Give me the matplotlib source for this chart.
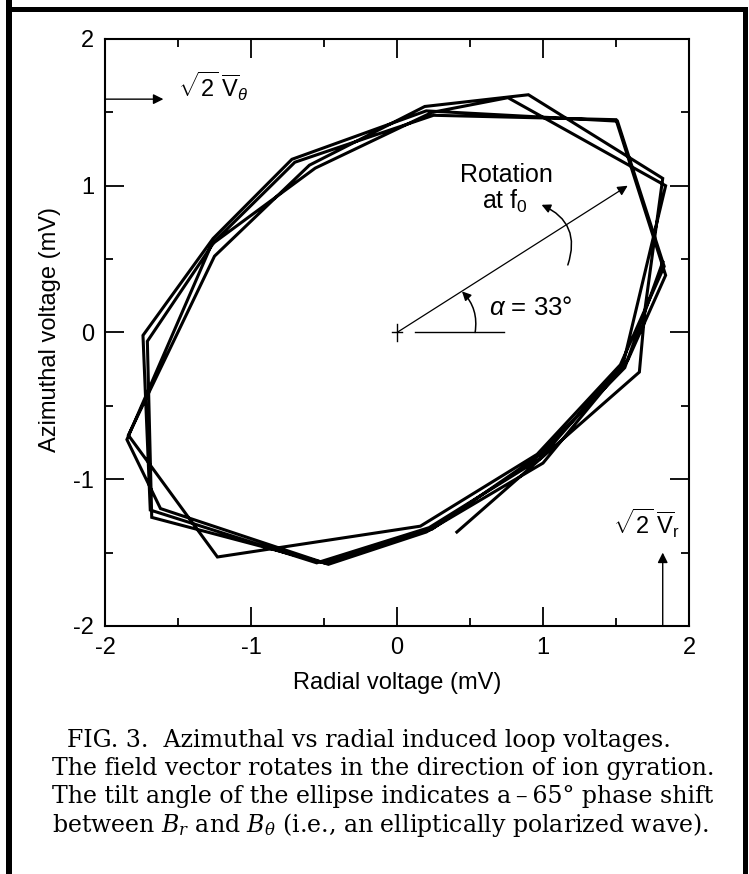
import matplotlib
matplotlib.use("Agg")
import matplotlib.pyplot as plt
from matplotlib.patches import Rectangle

plt.rcParams['font.family'] = ['Liberation Sans', 'DejaVu Sans']
plt.rcParams['axes.unicode_minus'] = False
plt.rcParams['mathtext.fontset'] = 'custom'
plt.rcParams['mathtext.rm'] = 'Liberation Sans'
plt.rcParams['mathtext.it'] = 'Liberation Sans:italic'

# hodogram trace (radial, azimuthal voltage in mV)
radial_mv = [0.41, 1.66, 1.70,
             1.82, 0.90, 0.19, -0.60, -1.25, -1.84, -1.23, 0.16, 0.96, 1.53,
             1.83, 1.51, 0.20, -0.72, -1.26, -1.74, -1.69, -0.55, 0.22, 0.98, 1.55,
             1.84, 0.76, 0.24, -0.56, -1.27, -1.85, -1.62, -0.47, 0.20, 1.00, 1.58,
             1.84, 1.50, 0.25, -0.70, -1.25, -1.71, -1.68, -0.50, 0.24, 0.97, 1.56, 1.82]
azimuthal_mv = [-1.36, -0.27, 0.17,
                1.05, 1.62, 1.54, 1.14, 0.52, -0.70, -1.53, -1.32, -0.83, -0.22,
                0.45, 1.44, 1.51, 1.18, 0.64, -0.02, -1.21, -1.57, -1.33, -0.86, -0.21,
                1.00, 1.60, 1.50, 1.12, 0.60, -0.73, -1.20, -1.58, -1.36, -0.89, -0.19,
                0.39, 1.45, 1.48, 1.16, 0.62, -0.06, -1.26, -1.57, -1.34, -0.84, -0.24, 0.48]

ticks = [-2, -1, 0, 1, 2]
minor_ticks = [-1.5, -0.5, 0.5, 1.5]
tilt_deg = 33

caption = ["FIG. 3.  Azimuthal vs radial induced loop voltages.",
           "The field vector rotates in the direction of ion gyration.",
           "The tilt angle of the ellipse indicates a\u2009\u2013\u200965\u00b0 phase shift",
           r"between $B_r$ and $B_\theta$ (i.e., an elliptically polarized wave)."]

fig = plt.figure(figsize=(7.49, 8.74), dpi=100)
ax = fig.add_axes([0.1402, 0.2838, 0.7797, 0.6716])

ax.plot(radial_mv, azimuthal_mv, color='black', lw=2.2, solid_joinstyle='miter')

ax.set_xlim(-2, 2)
ax.set_ylim(-2, 2)
ax.set_xticks(ticks)
ax.set_yticks(ticks)
ax.set_xticks(minor_ticks, minor=True)
ax.set_yticks(minor_ticks, minor=True)
ax.tick_params(which='both', direction='in', top=True, right=True, width=1.3,
               labelsize=17, color='black')
ax.tick_params(which='major', length=13.5, pad=8)
ax.tick_params(which='minor', length=6)
for s in ax.spines.values():
    s.set_linewidth(1.5)

ax.set_xlabel('Radial voltage (mV)', fontsize=17, va='center')
ax.xaxis.set_label_coords(0.5, -0.097)
ax.set_ylabel('Azimuthal voltage (mV)', fontsize=17, va='center')
ax.yaxis.set_label_coords(-0.094, 0.505)

# centre cross, tilt arrow and reference line
ax.plot([0, 0], [-0.055, 0.055], color='black', lw=1)
ax.plot([-0.035, 0.035], [0, 0], color='black', lw=1)
ax.annotate('', xy=(1.58, 1.0), xytext=(0, 0),
            arrowprops=dict(arrowstyle='-|>', color='black', lw=0.9,
                            mutation_scale=15, shrinkA=0, shrinkB=0))
ax.plot([0.12, 0.73], [0, 0], color='black', lw=1)
ax.annotate('', xy=(0.445, 0.28), xytext=(0.535, 0.0),
            arrowprops=dict(arrowstyle='-|>', color='black', lw=1.1,
                            mutation_scale=13, shrinkA=0, shrinkB=0,
                            connectionstyle='arc3,rad=0.25'))
ax.text(0.63, 0.17, r'$\alpha$ = %d$\degree$' % tilt_deg, fontsize=18.5,
        ha='left', va='center')

ax.text(0.75, 1.07, 'Rotation', fontsize=18, ha='center', va='center')
ax.text(0.74, 0.89, r'at f$_0$', fontsize=18, ha='center', va='center')
ax.annotate('', xy=(0.99, 0.87), xytext=(1.17, 0.46),
            arrowprops=dict(arrowstyle='-|>', color='black', lw=1.1,
                            mutation_scale=13, shrinkA=0, shrinkB=0,
                            connectionstyle='arc3,rad=0.45'))

# sqrt(2) V markers
ax.annotate('', xy=(-1.60, 1.59), xytext=(-2.0, 1.59),
            arrowprops=dict(arrowstyle='-|>', color='black', lw=1,
                            mutation_scale=15, shrinkA=0, shrinkB=0))
ax.text(-1.50, 1.68, r'$\sqrt{2}\;\overline{\mathrm{V}}_{\theta}$', fontsize=17,
        ha='left', va='center')
ax.annotate('', xy=(1.82, -1.50), xytext=(1.82, -2.0),
            arrowprops=dict(arrowstyle='-|>', color='black', lw=1,
                            mutation_scale=15, shrinkA=0, shrinkB=0))
ax.text(1.48, -1.30, r'$\sqrt{2}\;\overline{\mathrm{V}}_{\mathrm{r}}$', fontsize=17,
        ha='left', va='center')

# caption
cap_y = [741, 769, 797, 825]
cap_x = [67, 52, 52, 52]
for line, yy, xx in zip(caption, cap_y, cap_x):
    fig.text(xx / 749, 1 - yy / 874, line, family='DejaVu Serif', fontsize=17,
             ha='left', va='center', math_fontfamily='dejavuserif')

# scanned page frame
for x0, y0, w, h in [(6, 0, 6, 874), (6, 7, 742, 5), (743, 7, 5, 867)]:
    fig.add_artist(Rectangle((x0 / 749, 1 - (y0 + h) / 874), w / 749, h / 874,
                             transform=fig.transFigure, color='black', lw=0))

fig.savefig('out.png', dpi=100)
